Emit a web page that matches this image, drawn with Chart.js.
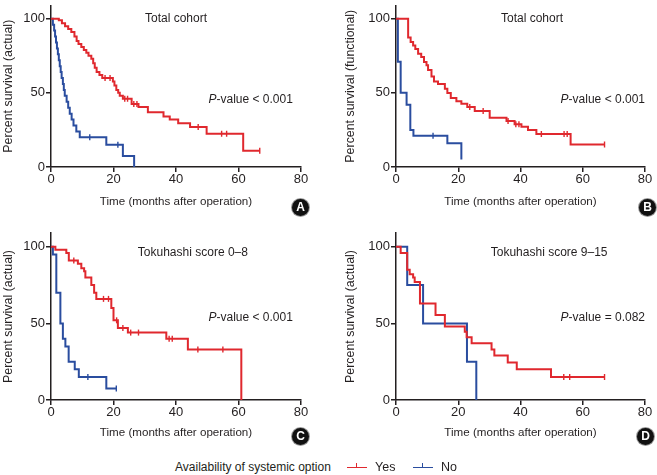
<!DOCTYPE html>
<html>
<head>
<meta charset="utf-8">
<script src="https://cdn.jsdelivr.net/npm/chart.js@4/dist/chart.umd.min.js"></script>
<style>
  body { margin: 0; background: #fff; font-family: "Liberation Sans", Arial, sans-serif; color: #231f20; }
  #wrap { position: relative; width: 657px; height: 475px; overflow: hidden; }
  canvas { position: absolute; }
  .badge { position: absolute; width: 17px; height: 17px; border-radius: 50%; background: #111;
           box-shadow: 0 0 0 1px #999; color: #fff; font: bold 12px "Liberation Sans", Arial, sans-serif;
           text-align: center; line-height: 17px; }
  #legend { position: absolute; left: 175px; top: 459px; font-size: 12px; line-height: 16px; white-space: nowrap; }
  #legend span { position: absolute; top: 0; }
  .swatch { position: absolute; top: 8px; width: 20px; height: 0; border-top: 1.5px solid; }
  .swatch::after { content: ""; position: absolute; left: 9px; top: -5px; height: 4px; border-left: 1.5px solid; border-color: inherit; }
</style>
</head>
<body>
<div id="wrap">
  <canvas id="cA" width="328" height="220" style="left:0;top:0"></canvas>
  <canvas id="cB" width="315" height="220" style="left:342px;top:0"></canvas>
  <canvas id="cC" width="328" height="225" style="left:0;top:220px"></canvas>
  <canvas id="cD" width="315" height="225" style="left:342px;top:220px"></canvas>
  <div class="badge" style="left:292px;top:199px">A</div>
  <div class="badge" style="left:639px;top:199px">B</div>
  <div class="badge" style="left:292px;top:428px">C</div>
  <div class="badge" style="left:637px;top:428px">D</div>
  <div id="legend">
    <span style="left:0">Availability of systemic option</span>
    <div class="swatch" style="left:172px;border-color:#e0282e"></div>
    <span style="left:200px;font-size:12.5px">Yes</span>
    <div class="swatch" style="left:238px;border-color:#2a4d9f"></div>
    <span style="left:266px;font-size:12.5px">No</span>
  </div>
</div>
<script>
const red  = "#e0282e";
const blue = "#2a4d9f";
const ink  = "#231f20";

const xTicks = [0, 20, 40, 60, 80];
const yTicks = [0, 50, 100];

// Panel A - total cohort, actual survival
const aYesT = [0, 2.5, 3.5, 4.5, 5.5, 6.5, 7.5, 8.2, 8.8, 9.7, 10.5, 11.3, 12, 12.9, 13.5, 14, 14.6, 15.5, 16.4, 19.8, 20.3, 20.9, 21.5, 22, 23, 25.8, 28, 31, 36, 38, 40.7, 44.5, 49.8, 61.5, 66.8];
const aYesS = [100, 99, 97, 95, 93, 91, 88, 85, 83, 81, 79, 77, 75, 73, 70, 67, 64, 62, 60, 57.6, 55, 52, 50, 48, 46, 42.5, 40.5, 37, 34, 32, 29.5, 27, 22.5, 11, 11];
const aYesCens = [17.3, 18.9, 23.6, 24.5, 26.5, 27.5, 47.1, 54.6, 56.2, 66.8];
const aNoT = [0, 0.6, 1.0, 1.3, 1.6, 1.9, 2.2, 2.5, 2.8, 3.1, 3.4, 3.8, 4.1, 4.4, 5.0, 5.5, 6.0, 6.6, 7.2, 8.1, 9.2, 17.7, 23.0, 26.6];
const aNoS = [100, 96, 92, 88, 84, 80, 76, 72, 68, 64, 60, 56, 52, 48, 44, 40, 36, 32, 28, 24, 20, 15, 7.5, 0];
const aNoCens = [12.4, 21.4];

// Panel B - total cohort, functional survival
const bYesT = [0, 3.9, 4.7, 5.5, 6.2, 7.1, 8.1, 9.0, 9.8, 10.3, 11.4, 12.2, 13.5, 15.7, 16.5, 17.6, 19.4, 21.0, 22.9, 25.3, 30.1, 35.5, 38.1, 40.3, 42.4, 45.1, 56.1, 67];
const bYesS = [100, 87.4, 84.3, 82, 79.6, 76.4, 74.2, 70.9, 68.7, 65.4, 61, 57.6, 55.9, 52.8, 49.9, 46.6, 44.4, 42.6, 40.4, 37.7, 33.3, 31.1, 28.9, 27.2, 25, 22.3, 15.2, 15.2];
const bYesCens = [23.7, 28, 36, 38.5, 39.5, 46.7, 54, 55, 67];
const bNoT = [0, 0.6, 1.5, 3.4, 4.6, 5.6, 16.5, 21];
const bNoS = [100, 71, 50, 42, 25, 21, 16, 5];
const bNoCens = [11.9];

// Panel C - Tokuhashi score 0-8
const cYesT = [0, 1.4, 4.9, 5.7, 8.6, 9.7, 10.6, 11.0, 12.9, 13.8, 14.5, 19.3, 20.0, 21.4, 24.6, 36.9, 43.8, 60.9];
const cYesS = [100, 98, 96, 91, 89, 86, 84, 80, 75, 70, 66, 60, 52, 47, 44, 40, 33, 0];
const cYesCens = [7.3, 16.8, 18.4, 21, 23, 25.5, 28, 37.8, 38.8, 47, 55];
const cNoT = [0, 0.6, 1.7, 3.0, 3.8, 4.6, 5.65, 7.6, 8.9, 17.7, 20.9];
const cNoS = [100, 95, 70, 50, 40, 35, 25, 20, 15, 7.5, 7.5];
const cNoCens = [11.8, 20.9];

// Panel D - Tokuhashi score 9-15
const dYesT = [0, 1.5, 3.6, 4.4, 5.5, 6.0, 7.7, 12.7, 15.7, 22.1, 22.7, 24.3, 30.7, 31.6, 35.9, 38.8, 49.8, 67];
const dYesS = [100, 96, 85, 82, 80, 77, 63, 55.5, 48, 44.5, 41, 37, 33, 29, 24.5, 20, 15, 15];
const dYesCens = [53.9, 55.8, 67];
const dNoT = [0, 3.6, 8.7, 22.8, 25.8];
const dNoS = [100, 75, 50, 25, 0];
const dNoCens = [];

function pts(t, s) { return t.map((v, i) => ({x: v, y: s[i]})); }

// survival value of the step curve at time c
function censPts(cens, t, s) {
  return cens.map(c => {
    let y = s[0];
    for (let i = 0; i < t.length; i++) if (t[i] <= c) y = s[i];
    return {x: c, y: y};
  });
}

function curve(t, s, color) {
  return { data: pts(t, s), borderColor: color, borderWidth: 2, stepped: true, pointRadius: 0, fill: false };
}
function ticks(cens, t, s, color) {
  return { data: censPts(cens, t, s), showLine: false, pointStyle: "line", rotation: 90, pointRadius: 3,
           borderColor: color, borderWidth: 1.4 };
}

const labelsPlugin = {
  id: "panelText",
  afterDatasetsDraw(chart) {
    const o = chart.options.plugins.panelText;
    const {ctx, scales: {x, y}} = chart;
    ctx.save();
    ctx.fillStyle = ink;
    ctx.textBaseline = "middle";
    ctx.font = "12px 'Liberation Sans', Arial, sans-serif";
    ctx.textAlign = "center";
    ctx.fillText(o.title, x.getPixelForValue(o.titleAt[0]), y.getPixelForValue(o.titleAt[1]));
    const rest = "-value " + o.p;
    ctx.textAlign = "left";
    const wRest = ctx.measureText(rest).width;
    ctx.font = "italic 12px 'Liberation Sans', Arial, sans-serif";
    const wP = ctx.measureText("P").width;
    const right = x.getPixelForValue(o.pAt[0]);
    const py = y.getPixelForValue(o.pAt[1]);
    ctx.fillText("P", right - wRest - wP, py);
    ctx.font = "12px 'Liberation Sans', Arial, sans-serif";
    ctx.fillText(rest, right - wRest, py);
    ctx.restore();
  }
};

function makeChart(id, p) {
  new Chart(document.getElementById(id), {
    type: "line",
    data: { datasets: [
      curve(p.yesT, p.yesS, red),
      curve(p.noT, p.noS, blue),
      ticks(p.yesC, p.yesT, p.yesS, red),
      ticks(p.noC, p.noT, p.noS, blue)
    ]},
    options: {
      responsive: false,
      animation: false,
      layout: { padding: p.pad },
      plugins: { legend: { display: false }, tooltip: { enabled: false },
                 panelText: { title: p.title, titleAt: p.titleAt, p: p.p, pAt: p.pAt } },
      scales: {
        x: {
          type: "linear", min: 0, max: 80,
          afterBuildTicks: s => { s.ticks = xTicks.map(v => ({value: v})); },
          afterFit: s => { s.height = p.xh; s.paddingLeft = 0; s.paddingRight = 0; },
          ticks: { color: ink, padding: 0, font: { size: 13, family: "'Liberation Sans', Arial" } },
          grid: { drawOnChartArea: false, tickLength: 5, color: ink, lineWidth: 1.5 },
          border: { color: ink, width: 1.5 },
          title: { display: true, text: "Time (months after operation)", color: ink, padding: 0,
                   font: { size: 11.6, family: "'Liberation Sans', Arial" } }
        },
        y: {
          min: 0, max: 109,
          afterBuildTicks: s => { s.ticks = yTicks.map(v => ({value: v})); },
          afterFit: s => { s.width = p.yw; s.paddingTop = 0; s.paddingBottom = 0; },
          ticks: { color: ink, padding: 1, font: { size: 13, family: "'Liberation Sans', Arial" } },
          grid: { drawOnChartArea: false, tickLength: 5, color: ink, lineWidth: 1.5 },
          border: { color: ink, width: 1.5 },
          title: { display: true, text: p.yTitle, color: ink, padding: 1,
                   font: { size: 12.4, family: "'Liberation Sans', Arial" } }
        }
      }
    },
    plugins: [labelsPlugin]
  });
}

makeChart("cA", { yesT: aYesT, yesS: aYesS, yesC: aYesCens, noT: aNoT, noS: aNoS, noC: aNoCens,
  pad: {top: 3, right: 27, bottom: 11, left: 0}, yw: 51, xh: 42,
  yTitle: "Percent survival (actual)", title: "Total cohort", titleAt: [40, 100], p: "< 0.001", pAt: [77.4, 45.7] });
makeChart("cB", { yesT: bYesT, yesS: bYesS, yesC: bYesCens, noT: bNoT, noS: bNoS, noC: bNoCens,
  pad: {top: 3, right: 12, bottom: 11, left: 0}, yw: 54, xh: 42,
  yTitle: "Percent survival (functional)", title: "Total cohort", titleAt: [43.7, 100], p: "< 0.001", pAt: [80, 45.7] });
makeChart("cC", { yesT: cYesT, yesS: cYesS, yesC: cYesCens, noT: cNoT, noS: cNoS, noC: cNoCens,
  pad: {top: 13, right: 27, bottom: 5, left: 0}, yw: 51, xh: 40,
  yTitle: "Percent survival (actual)", title: "Tokuhashi score 0\u20138", titleAt: [45.4, 96], p: "< 0.001", pAt: [77.4, 53.5] });
makeChart("cD", { yesT: dYesT, yesS: dYesS, yesC: dYesCens, noT: dNoT, noS: dNoS, noC: dNoCens,
  pad: {top: 13, right: 12, bottom: 5, left: 0}, yw: 54, xh: 40,
  yTitle: "Percent survival (actual)", title: "Tokuhashi score 9\u201315", titleAt: [49.2, 96], p: "= 0.082", pAt: [80, 53.5] });
</script>
</body>
</html>
